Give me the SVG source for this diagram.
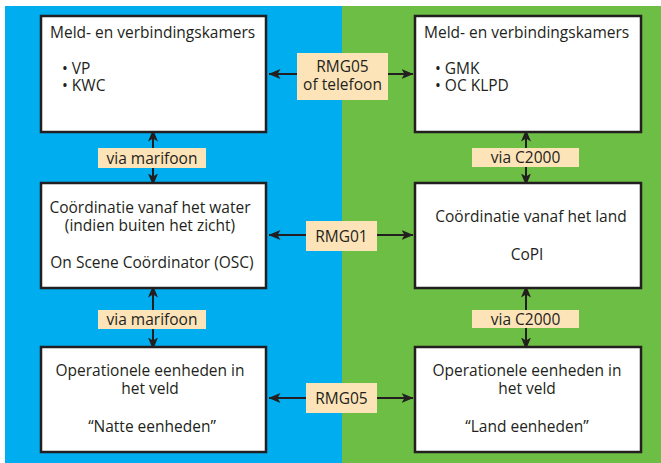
<svg xmlns="http://www.w3.org/2000/svg" width="661" height="463" viewBox="0 0 661 463">
<defs>
<marker id="ah" viewBox="0 0 12 10" refX="11.5" refY="5" markerWidth="12" markerHeight="10" markerUnits="userSpaceOnUse" orient="auto-start-reverse">
<path d="M0,0 L12,5 L0,10 L3,5 Z" fill="#231f20"/>
</marker>
<style>
.box{fill:#ffffff;stroke:#231f20;stroke-width:2.5}
.lab{fill:#fde4b8}
.t{font-family:"Open Sans","Noto Sans","Liberation Sans",sans-serif;font-size:15.5px;fill:#231f20}
.c{text-anchor:middle}
.ln{stroke:#231f20;stroke-width:2;fill:none;marker-start:url(#ah);marker-end:url(#ah)}
</style>
</defs>
<rect x="5" y="6" width="337" height="457" fill="#00aeef"/>
<rect x="342" y="6" width="319" height="457" fill="#6dbe45"/>

<g id="connectors">
<line class="ln" x1="269" y1="74" x2="413" y2="74"/>
<line class="ln" x1="269" y1="235" x2="413" y2="235"/>
<line class="ln" x1="269" y1="398" x2="413" y2="398"/>
<line class="ln" x1="153" y1="130" x2="153" y2="185"/>
<line class="ln" x1="153" y1="286" x2="153" y2="349"/>
<line class="ln" x1="526" y1="130" x2="526" y2="185"/>
<line class="ln" x1="526" y1="286" x2="526" y2="349"/>
</g>

<g id="lab-rmg05-top"><rect class="lab" x="297" y="53" width="91" height="47"/>
<text class="t c" x="342.5" y="72">RMG05<tspan x="342.5" y="90">of telefoon</tspan></text></g>
<g id="lab-rmg01"><rect class="lab" x="306" y="221" width="71" height="30"/>
<text class="t c" x="341.5" y="241.5">RMG01</text></g>
<g id="lab-rmg05-bottom"><rect class="lab" x="306" y="383" width="71" height="30"/>
<text class="t c" x="341.5" y="403.5">RMG05</text></g>
<g id="lab-marifoon-top"><rect class="lab" x="98" y="148" width="108" height="20"/>
<text class="t c" x="152" y="163.5">via marifoon</text></g>
<g id="lab-marifoon-bottom"><rect class="lab" x="98" y="310" width="108" height="19"/>
<text class="t c" x="152" y="325">via marifoon</text></g>
<g id="lab-c2000-top"><rect class="lab" x="472" y="148" width="107" height="19"/>
<text class="t c" x="525.5" y="163">via C2000</text></g>
<g id="lab-c2000-bottom"><rect class="lab" x="472" y="310" width="107" height="18"/>
<text class="t c" x="525.5" y="324.5">via C2000</text></g>

<g id="node-mvk-left"><rect class="box" x="41" y="16" width="225" height="116"/>
<text class="t" x="50" y="38">Meld- en verbindingskamers</text>
<text class="t" x="62" y="74">• VP<tspan x="62" y="91">• KWC</tspan></text></g>
<g id="node-mvk-right"><rect class="box" x="415" y="16" width="226" height="116"/>
<text class="t" x="424" y="38">Meld- en verbindingskamers</text>
<text class="t" x="435" y="74">• GMK<tspan x="435" y="91">• OC KLPD</tspan></text></g>
<g id="node-coord-water"><rect class="box" x="41" y="183" width="225" height="105"/>
<text class="t c" x="150" y="213">Coördinatie vanaf het water<tspan x="150" y="231">(indien buiten het zicht)</tspan></text>
<text class="t c" x="152" y="268">On Scene Coördinator (OSC)</text></g>
<g id="node-coord-land"><rect class="box" x="415" y="183" width="226" height="105"/>
<text class="t c" x="531" y="222">Coördinatie vanaf het land</text>
<text class="t c" x="527" y="260">CoPI</text></g>
<g id="node-eenheden-water"><rect class="box" x="41" y="347" width="225" height="105"/>
<text class="t c" x="150" y="376">Operationele eenheden in<tspan x="150" y="394">het veld</tspan></text>
<text class="t c" x="152" y="432">“Natte eenheden”</text></g>
<g id="node-eenheden-land"><rect class="box" x="415" y="347" width="226" height="105"/>
<text class="t c" x="527" y="376">Operationele eenheden in<tspan x="527" y="394">het veld</tspan></text>
<text class="t c" x="527" y="432">“Land eenheden”</text></g>
</svg>
